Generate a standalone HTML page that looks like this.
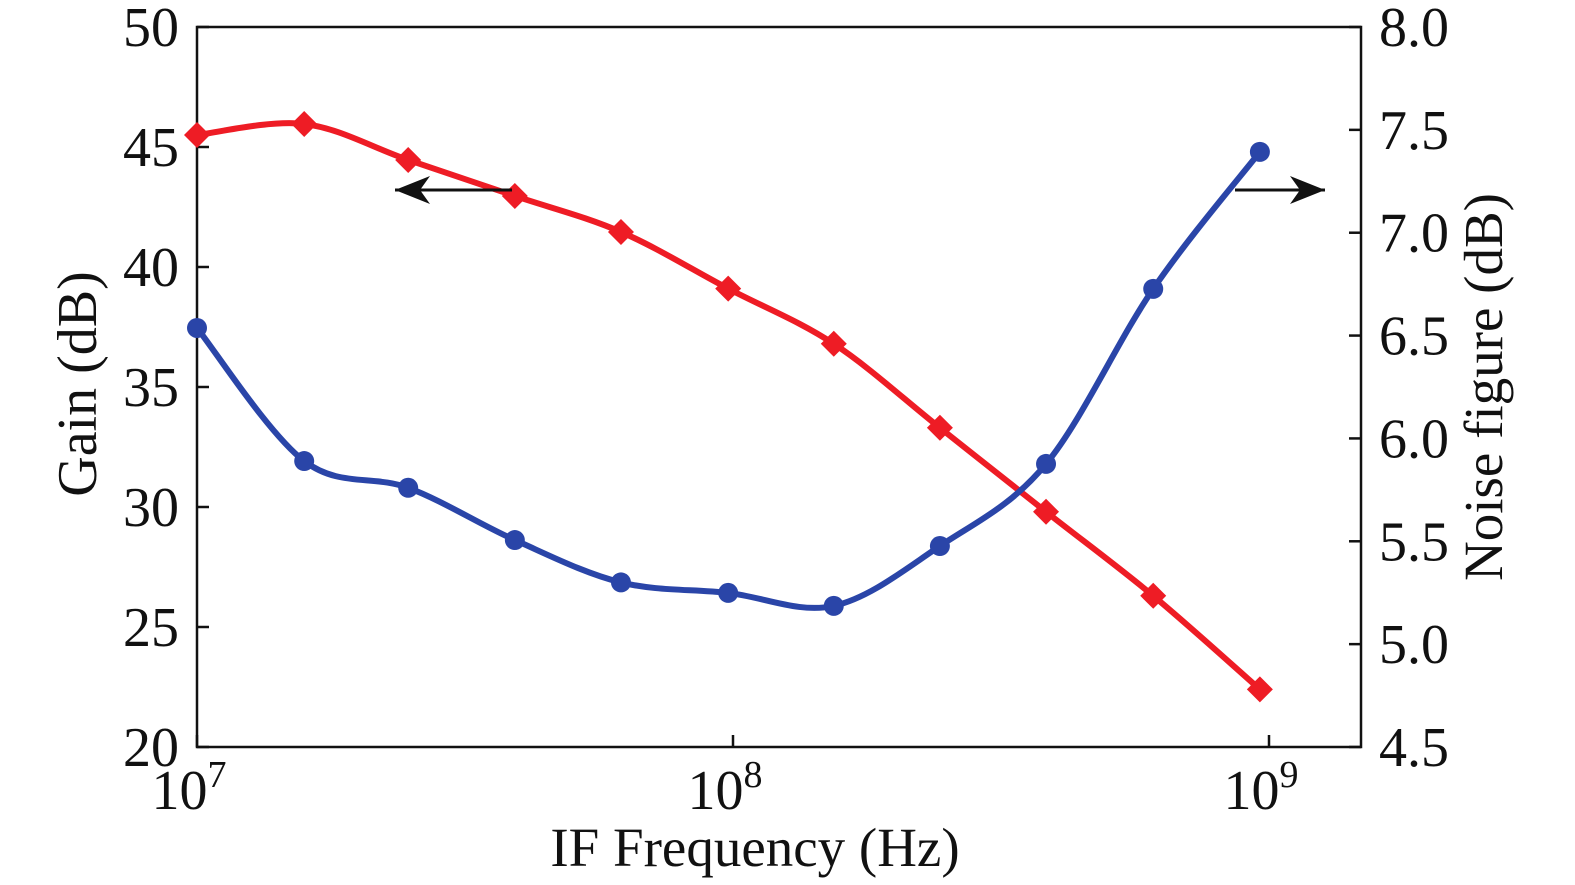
<!DOCTYPE html>
<html><head><meta charset="utf-8"><style>
html,body{margin:0;padding:0;background:#fff;}
svg{display:block;font-family:"Liberation Serif",serif;}
</style></head><body>
<svg id="chart" width="1575" height="885" viewBox="0 0 1575 885" xmlns="http://www.w3.org/2000/svg">
<g id="axes"></g>
<g id="series"></g>
<line x1="512" y1="190" x2="395" y2="190" stroke="#111" stroke-width="3"/>
<polygon points="395,190 430,176 420,190 430,204" fill="#111"/>
<line x1="1235" y1="190" x2="1325" y2="190" stroke="#111" stroke-width="3"/>
<polygon points="1325,190 1290,176 1300,190 1290,204" fill="#111"/>
<text x="755" y="866" font-size="55" text-anchor="middle" fill="#111">IF Frequency (Hz)</text>
<text transform="translate(96,384) rotate(-90)" font-size="56" text-anchor="middle" fill="#111">Gain (dB)</text>
<text transform="translate(1502,387) rotate(-90)" font-size="55" text-anchor="middle" fill="#111">Noise figure (dB)</text>
</svg>
<script>
const logFreq = [7.0, 7.2, 7.394, 7.593, 7.791, 7.991, 8.188, 8.386, 8.584, 8.784, 8.983];
const gain = [45.5, 45.96, 44.46, 42.96, 41.46, 39.1, 36.8, 33.3, 29.8, 26.3, 22.4];
const noiseFigure = [6.537, 5.89, 5.76, 5.506, 5.30, 5.249, 5.186, 5.477, 5.876, 6.727, 7.393];
const gainTicks = [20, 25, 30, 35, 40, 45, 50];
const nfTicks = [4.5, 5.0, 5.5, 6.0, 6.5, 7.0, 7.5, 8.0];
const xTicks = [7, 8, 9];

const L=197,R=1361,T=27,B=747;
const xs=v=>L+(v-7)*536;
const yg=v=>B-(v-20)*(B-T)/30;
const yn=v=>B-(v-4.5)*(B-T)/3.5;
const NS="http://www.w3.org/2000/svg";
function mk(tag,attrs,parent){const e=document.createElementNS(NS,tag);for(const k in attrs)e.setAttribute(k,attrs[k]);parent.appendChild(e);return e;}
const ax=document.getElementById('axes'), se=document.getElementById('series');
const frame=mk('rect',{x:L,y:T,width:R-L,height:B-T,fill:'none',stroke:'#111','stroke-width':2.5},ax);


gainTicks.forEach(t=>{
  const y=yg(t);
  const tk=mk('line',{x1:L,x2:L+12,y1:y,y2:y,stroke:'#111','stroke-width':2.5},ax);
  
  
  const tx=mk('text',{x:L-18,y:y+19,'font-size':56,'text-anchor':'end',fill:'#111'},ax);
  
  
  tx.textContent=t;
});
nfTicks.forEach(t=>{
  const y=yn(t);
  const tk=mk('line',{x1:R-12,x2:R,y1:y,y2:y,stroke:'#111','stroke-width':2.5},ax);
  
  
  const tx=mk('text',{x:R+18,y:y+19,'font-size':56,'text-anchor':'start',fill:'#111'},ax);
  
  
  tx.textContent=t.toFixed(1);
});
xTicks.forEach(t=>{
  const x=xs(t);
  const tk=mk('line',{x1:x,x2:x,y1:B-12,y2:B,stroke:'#111','stroke-width':2.5},ax);
  
  
  const tx=mk('text',{x:x-8,y:B+62,'font-size':56,'text-anchor':'middle',fill:'#111'},ax);
  
  
  tx.textContent='10';
  const sp=mk('tspan',{dy:-22,'font-size':38},tx);
  sp.textContent=t;
});
function smooth(pts){
  let d=`M${pts[0][0]},${pts[0][1]}`;
  for(let i=0;i<pts.length-1;i++){
    const p0=pts[i-1]||pts[i],p1=pts[i],p2=pts[i+1],p3=pts[i+2]||p2;
    const c1=[p1[0]+(p2[0]-p0[0])/6,p1[1]+(p2[1]-p0[1])/6];
    const c2=[p2[0]-(p3[0]-p1[0])/6,p2[1]-(p3[1]-p1[1])/6];
    d+=` C${c1[0]},${c1[1]} ${c2[0]},${c2[1]} ${p2[0]},${p2[1]}`;
  }
  return d;
}
const gp=logFreq.map((f,i)=>[xs(f),yg(gain[i])]);
const np=logFreq.map((f,i)=>[xs(f),yn(noiseFigure[i])]);
const gl=mk('path',{d:smooth(gp),fill:'none',stroke:'#ee1c25','stroke-width':6},se);


const nl=mk('path',{d:smooth(np),fill:'none',stroke:'#2a45a8','stroke-width':6},se);


gp.forEach(p=>{
  const m=mk('polygon',{points:`${p[0]},${p[1]-13} ${p[0]+13},${p[1]} ${p[0]},${p[1]+13} ${p[0]-13},${p[1]}`,fill:'#ee1c25'},se);
  
  
});
np.forEach(p=>{
  const m=mk('circle',{cx:p[0],cy:p[1],r:10,fill:'#2a45a8'},se);
  
  
});
</script>
</body></html>
